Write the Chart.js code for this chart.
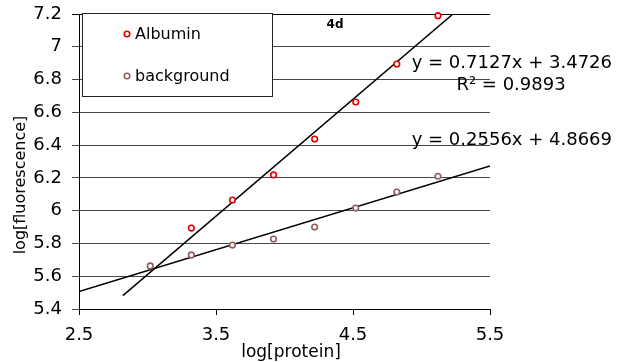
<!DOCTYPE html>
<html><head><meta charset="utf-8">
<script src="https://cdn.jsdelivr.net/npm/chart.js@4/dist/chart.umd.min.js"></script>
<style>html,body{margin:0;padding:0;background:#fff}#wrap{width:618px;height:362px}</style>
</head><body><div id="wrap"><canvas id="c" width="618" height="362"></canvas></div>
<script>
// ---- data ----
const albuminProtein = [3.32, 3.62, 3.92, 4.22, 4.52, 4.82, 5.12];
const albuminFluor   = [5.894, 6.065, 6.218, 6.437, 6.663, 6.895, 7.19];
const backgroundProtein = [3.02, 3.32, 3.62, 3.92, 4.22, 4.52, 4.82, 5.12];
const backgroundFluor   = [5.663, 5.73, 5.79, 5.827, 5.90, 6.016, 6.114, 6.21];
const albuminTrendX = [2.82, 5.23];
const albuminTrendY = [5.482, 7.2];
const backgroundTrendX = [2.5, 5.5];
const backgroundTrendY = [5.506, 6.273];
const xTicks = [2.5, 3.5, 4.5, 5.5];
const yTicks = [5.4, 5.6, 5.8, 6, 6.2, 6.4, 6.6, 6.8, 7, 7.2];
const seriesNames = ['Albumin', 'background'];
const equations = ['y = 0.7127x + 3.4726', 'R² = 0.9893', 'y = 0.2556x + 4.8669'];
const panelLabel = '4d';
const xTitle = 'log[protein]';
const yTitle = 'log[fluorescence]';

const RED = '#e60000';
const BROWN = '#8f5c5c';
const FONT = '"DejaVu Sans", Verdana, sans-serif';

const zip = (xs, ys) => xs.map((x, i) => ({x, y: ys[i]}));

const overlay = {
  id: 'overlay',
  afterDraw(chart) {
    const ctx = chart.ctx;
    ctx.save();
    // legend box
    ctx.fillStyle = '#fff';
    ctx.fillRect(82, 13, 191, 84);
    ctx.strokeStyle = '#222';
    ctx.lineWidth = 1;
    ctx.strokeRect(82.5, 13.5, 190, 83);
    const items = [[seriesNames[0], RED, 34], [seriesNames[1], BROWN, 76]];
    items.forEach(([t, c, y]) => {
      ctx.beginPath();
      ctx.arc(127, y, 2.8, 0, Math.PI * 2);
      ctx.fillStyle = '#fff';
      ctx.fill();
      ctx.strokeStyle = c;
      ctx.lineWidth = 1.6;
      ctx.stroke();
      ctx.fillStyle = '#000';
      ctx.font = '16px ' + FONT;
      ctx.textAlign = 'left';
      ctx.textBaseline = 'middle';
      ctx.fillText(t, 135, y + 1);
    });
    // panel label
    ctx.font = 'bold 12px ' + FONT;
    ctx.textAlign = 'center';
    ctx.textBaseline = 'middle';
    ctx.fillStyle = '#000';
    ctx.fillText(panelLabel, 335, 25);
    // equations
    ctx.font = '18px ' + FONT;
    ctx.textBaseline = 'alphabetic';
    ctx.textAlign = 'right';
    ctx.fillText(equations[0], 612, 68);
    ctx.textAlign = 'center';
    ctx.fillText(equations[1], 511, 90);
    ctx.textAlign = 'right';
    ctx.fillText(equations[2], 612, 145);
    // axis titles
    ctx.font = '17px ' + FONT;
    ctx.textAlign = 'center';
    ctx.textBaseline = 'middle';
    ctx.fillText(xTitle, 291, 353);
    ctx.save();
    ctx.translate(21, 185);
    ctx.rotate(-Math.PI / 2);
    ctx.font = '16px ' + FONT;
    ctx.fillText(yTitle, 0, 0);
    ctx.restore();
    ctx.restore();
  }
};

const chart = new Chart(document.getElementById('c'), {
  type: 'scatter',
  data: {
    datasets: [
      {label: seriesNames[0], data: zip(albuminProtein, albuminFluor), borderColor: RED, backgroundColor: '#fff',
       pointRadius: 2.8, pointBorderWidth: 1.6, pointHoverRadius: 2.8, showLine: false, clip: false},
      {label: seriesNames[1], data: zip(backgroundProtein, backgroundFluor), borderColor: BROWN, backgroundColor: '#fff',
       pointRadius: 2.8, pointBorderWidth: 1.6, pointHoverRadius: 2.8, showLine: false, clip: false},
      {label: 'Albumin trend', data: zip(albuminTrendX, albuminTrendY), borderColor: '#000', borderWidth: 1.5,
       pointRadius: 0, showLine: true, fill: false},
      {label: 'background trend', data: zip(backgroundTrendX, backgroundTrendY), borderColor: '#000', borderWidth: 1.5,
       pointRadius: 0, showLine: true, fill: false}
    ]
  },
  options: {
    responsive: false,
    animation: false,
    devicePixelRatio: 1,
    layout: {padding: {top: 14, right: 128, left: 0, bottom: 0}},
    plugins: {legend: {display: false}, tooltip: {enabled: false}},
    scales: {
      x: {
        type: 'linear', min: 2.5, max: 5.5,
        afterBuildTicks: s => { s.ticks = xTicks.map(v => ({value: v})); },
        afterFit: s => { s.height = 53; s.paddingLeft = 0; s.paddingRight = 0; },
        ticks: {font: {family: FONT, size: 18}, color: '#000', padding: 10, callback: v => String(v), maxRotation: 0, autoSkip: false},
        grid: {drawOnChartArea: false, drawTicks: true, tickLength: 6, color: '#000'},
        border: {color: '#000', width: 1}
      },
      y: {
        type: 'linear', min: 5.4, max: 7.2,
        afterBuildTicks: s => { s.ticks = yTicks.map(v => ({value: v})); },
        afterFit: s => { s.width = 79; s.paddingTop = 0; s.paddingBottom = 0; },
        ticks: {font: {family: FONT, size: 18}, color: '#000', padding: 10, callback: v => String(v), autoSkip: false},
        grid: {color: ctx => (ctx.tick && ctx.tick.value === 7.2) ? '#000' : '#484848', tickLength: 7, drawTicks: true},
        border: {color: '#000', width: 1}
      }
    }
  },
  plugins: [overlay]
});
</script></body></html>
